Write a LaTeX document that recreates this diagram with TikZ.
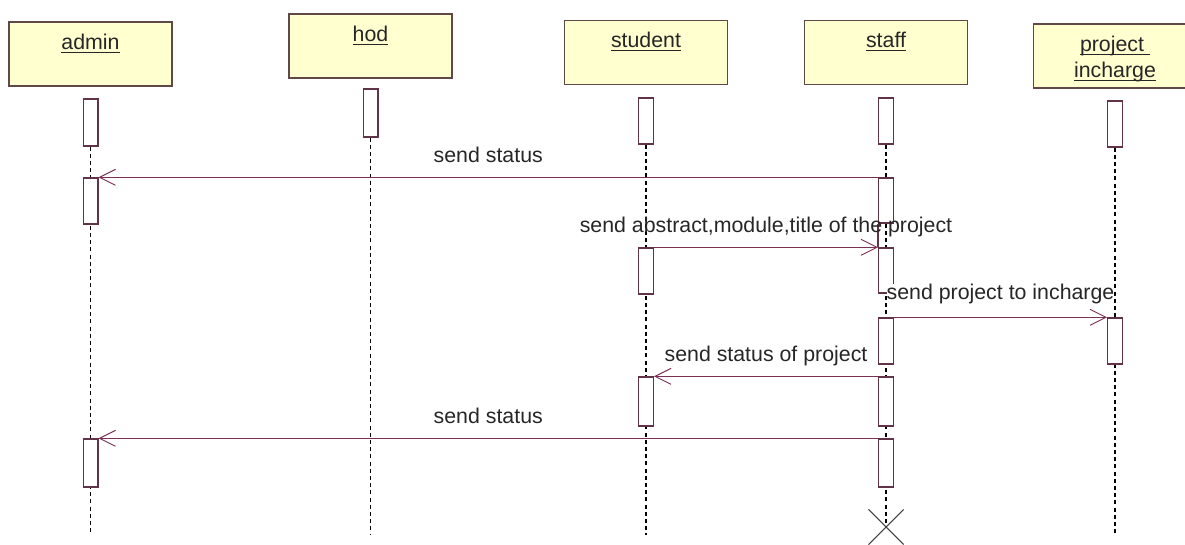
\documentclass[tikz,border=0pt]{standalone}
\usepackage{fontspec}
\setmainfont{Liberation Sans}
\usetikzlibrary{arrows.meta,shapes.misc,backgrounds}
\definecolor{headfill}{RGB}{255,255,208}
\definecolor{headdraw}{RGB}{96,72,72}
\definecolor{msgdraw}{RGB}{122,48,84}
\definecolor{actdraw}{RGB}{98,50,70}
\newsavebox{\unamebox}
\newcommand{\uname}[1]{\sbox{\unamebox}{#1}\rlap{\rule[-2.4pt]{\wd\unamebox}{0.9pt}}\usebox{\unamebox}}

\begin{document}
\begin{tikzpicture}[x=0.75pt,y=-0.75pt,
    head/.style={draw=headdraw,fill=headfill,line width=1.1pt,
      minimum width=122pt,minimum height=48pt,inner sep=0pt},
    headtxt/.style={font=\fontsize{16}{20}\selectfont,text=black!85,inner sep=0pt,anchor=base},
    act/.style={draw=actdraw,fill=white,line width=1pt,minimum width=11pt,inner sep=0pt},
    life/.style={line width=1.2pt,dash pattern=on 3pt off 2.4pt},
    msg/.style={draw=msgdraw,line width=1pt,
      -{Straight Barb[length=12pt,width=12pt,line width=0.7pt]}},
    msgtxt/.style={font=\fontsize{16}{20}\selectfont,text=black!85,inner sep=0pt,
      anchor=base,yshift=11.25pt}]
  \useasboundingbox (0,0) rectangle (1185,545);
  \coordinate (bottom) at (0,535);
  % objects
  \foreach \n/\x/\y/\yt in {admin/90.5/54/50,hod/370.5/46/42,student/646/52.5/48,staff/886/52.5/48}{
    \node[head] (h-\n) at (\x,\y) {};
    \node[headtxt] (t-\n) at (\x,\yt) {\uname{\n}};
  }
  \node[head] (h-incharge) at (1115,56) {};
  \node[headtxt] (t-incharge-1) at (1115,52) {\uname{project\ }};
  \node[headtxt] (t-incharge-2) at (1115,78) {\uname{incharge}};
  % activations
  \foreach \n/\i/\ya/\yb in {admin/1/99/146,admin/2/178/224,admin/3/439/487,
      hod/1/89/137,
      student/1/98/144,student/2/248/294,student/3/377/426,
      staff/1/98/144,staff/2/178/223,staff/3/248/293,staff/4/318/364,
      staff/5/377/426,staff/6/439/487,
      incharge/1/101/147,incharge/2/318/364}{
    \coordinate (mid) at (0,{(\ya+\yb)/2});
    \node[act,minimum height={(\yb-\ya)*0.75pt}] (a-\n-\i) at (h-\n |- mid) {};
  }
  \draw[actdraw,line width=1pt] (a-staff-2.south west) -- (a-staff-3.north west);
  \node[draw=black!75,cross out,line width=0.8pt,minimum size=25.5pt,inner sep=0pt]
    (x-staff) at (886,527) {};
  % lifelines
  \begin{scope}[on background layer]
    \foreach \n in {admin,hod,student,incharge}
      \draw[life] (a-\n-1.south) -- (a-\n-1.south |- bottom);
    \draw[life] (a-staff-1.south) -- (x-staff.center);
  \end{scope}
  % messages
  \draw[msg] (a-staff-2.north west) -- node[msgtxt] {send status} (a-admin-2.north east);
  \draw[msg] (a-student-2.north east) -- node[msgtxt] {send abstract,module,title of the project}
    (a-staff-3.north west);
  \draw[msg] (a-staff-4.north east) -- node[msgtxt,yshift=2.25pt,fill=white]
    {send project to incharge} (a-incharge-2.north west);
  \draw[msg] (a-staff-5.north west) -- node[msgtxt] {send status of project}
    (a-student-3.north east);
  \draw[msg] (a-staff-6.north west) -- node[msgtxt] {send status} (a-admin-3.north east);
\end{tikzpicture}
\end{document}
